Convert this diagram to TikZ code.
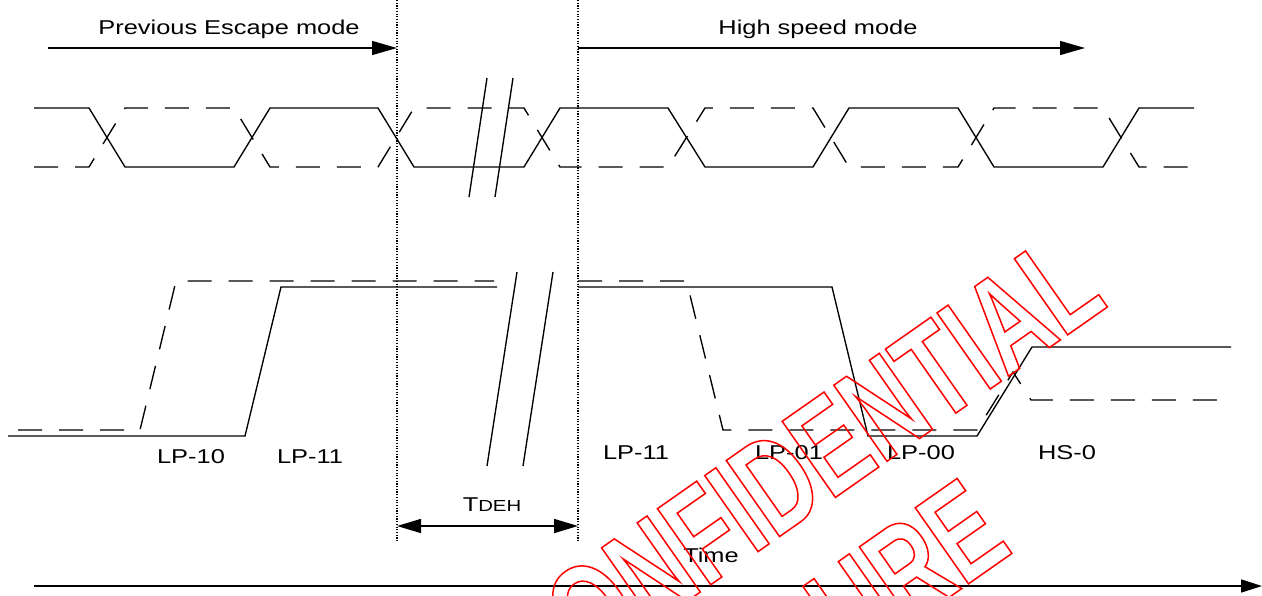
\documentclass[tikz,border=0pt]{standalone}
\usepackage{fontspec}
\setmainfont{Liberation Sans}
\newfontfamily\wmfont[FakeStretch=0.7]{Liberation Sans Bold}
\usepackage{graphicx}
\usetikzlibrary{arrows.meta}

\newcommand\lblfont{\fontsize{20}{24}\selectfont}
\newcommand\wide[1]{\scalebox{1.27}[1]{#1}}
\newcommand\wmtext[1]{{\color{red}\special{pdf:literal direct 1 Tr 1.5 w 1 0 0 RG}\wmfont\fontsize{135}{135}\selectfont #1\special{pdf:literal direct 0 Tr}}}

\begin{document}
\begin{tikzpicture}[x=1pt,y=-1pt,
  sig/.style={line width=1.35pt, line join=miter},
  sigdash/.style={sig, dash pattern=on 24pt off 17pt},
  guide/.style={line width=1.1pt, dash pattern=on 1.2pt off 1.5pt},
  modearrow/.style={line width=1.3pt, -{Triangle[length=25pt,width=14pt]}},
  spanarrow/.style={line width=1.6pt, {Triangle[length=24pt,width=14pt]}-{Triangle[length=24pt,width=14pt]}},
  axisarrow/.style={line width=1.6pt, -{Triangle[length=21pt,width=13pt]}},
  brk/.style={line width=1.35pt},
  lbl/.style={inner sep=0pt, anchor=base, font=\lblfont},
  wm/.style={inner sep=0pt, anchor=center}
]
\useasboundingbox (0,0) rectangle (1262,595);

% guide lines
\coordinate (d1t) at (397,0);   \coordinate (d1b) at (397,541);
\coordinate (d2t) at (578,0);   \coordinate (d2b) at (578,541);
\draw[guide] (d1t) -- (d1b);
\draw[guide] (d2t) -- (d2b);

% mode arrows
\coordinate (pe0) at (48,48);  \coordinate (pe1) at (397,48);
\coordinate (hm0) at (578,48); \coordinate (hm1) at (1085,48);
\draw[modearrow] (pe0) -- (pe1);
\draw[modearrow] (hm0) -- (hm1);
\node[lbl] (prev) at (229,34) {\wide{Previous Escape mode}};
\node[lbl] (hsm) at (818,34) {\wide{High speed mode}};

% high-speed differential (eye) signal
\draw[sig] (34,108) -- (89,108) -- (125,167) -- (234,167) -- (270,108) -- (378,108)
  -- (414,167) -- (524,167) -- (560,108) -- (668,108) -- (705,167) -- (813,167)
  -- (849,108) -- (958,108) -- (994,167) -- (1103,167) -- (1139,108) -- (1194,108);
\draw[sigdash] (34,167) -- (89,167) -- (125,108) -- (234,108) -- (270,167) -- (378,167)
  -- (414,108) -- (524,108) -- (560,167) -- (668,167) -- (705,108) -- (813,108)
  -- (849,167) -- (958,167) -- (994,108) -- (1103,108) -- (1139,167) -- (1194,167);
\draw[brk] (487,78) -- (469,197);
\draw[brk] (513,78) -- (495,197);

% low-power signals
\draw[sig] (8,436) -- (245,436) -- (281,287) -- (497,287);
\draw[sig] (578,287) -- (832,287) -- (868,436) -- (977,436) -- (1032,347) -- (1231,347);
\draw[sigdash] (18,430) -- (140,430) -- (176,281) -- (494,281);
\draw[sigdash] (578,281) -- (686,281) -- (688,287) -- (723,430) -- (977,430)
  -- (1013,372) -- (1031,400) -- (1231,400);
\draw[brk] (517,272) -- (487,466);
\draw[brk] (553,272) -- (523,466);

% state labels
\node[lbl] (lp10) at (191,463) {\wide{LP-10}};
\node[lbl] (lp11a) at (310,463) {\wide{LP-11}};
\node[lbl] (lp11b) at (636,459) {\wide{LP-11}};
\node[lbl] (lp01) at (789,459) {\wide{LP-01}};
\node[lbl] (lp00) at (921,459) {\wide{LP-00}};
\node[lbl] (hs0) at (1067,459) {\wide{HS-0}};

% TDEH span
\coordinate (t0) at (397,526); \coordinate (t1) at (578,526);
\draw[spanarrow] (t0) -- (t1);
\node[lbl] (tdeh) at (492,511) {\wide{T{\fontsize{16}{16}\selectfont DEH}}};

% time axis
\coordinate (ax0) at (34,586); \coordinate (ax1) at (1262,586);
\draw[axisarrow] (ax0) -- (ax1);
\node[lbl] (time) at (711,562) {\wide{Time}};

% watermark
\begin{scope}
\clip (0,0) rectangle (1262,595);
\node[wm, rotate=35] (wm1) at (795,469) {\wmtext{CONFIDENTIAL}};
\node[wm, rotate=35] (wm2) at (907,571) {\wmtext{URE}};
\end{scope}
\end{tikzpicture}
\end{document}
